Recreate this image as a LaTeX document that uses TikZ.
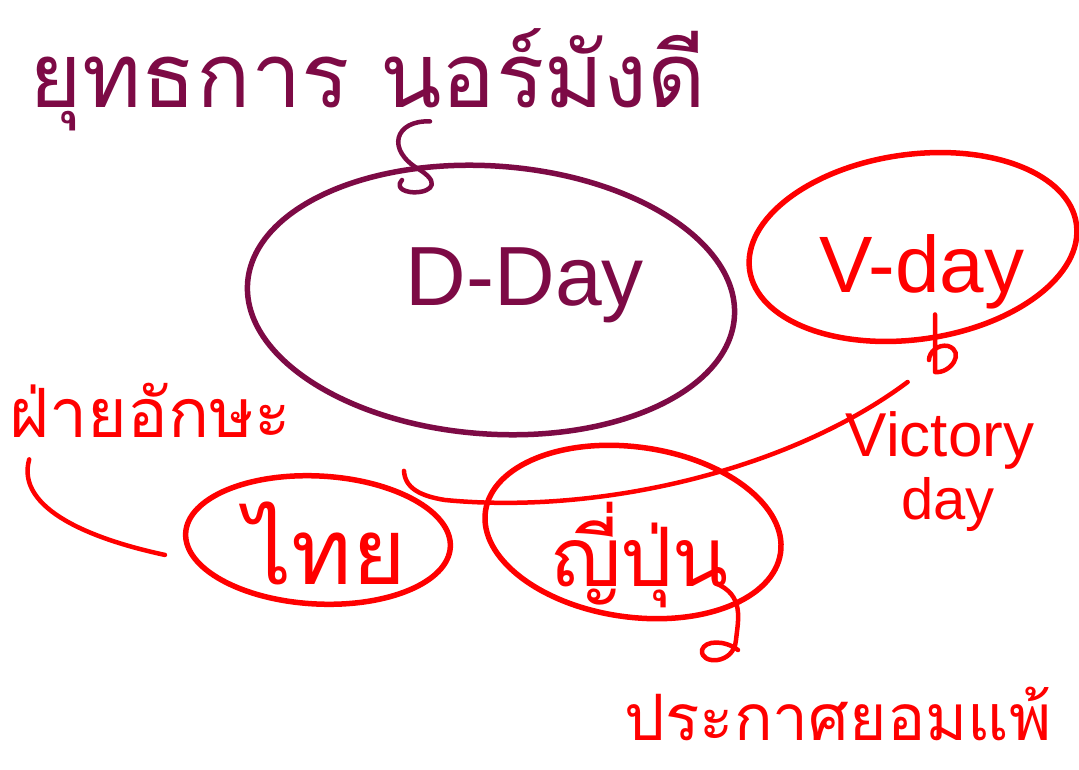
\documentclass[tikz,border=0pt]{standalone}
\usepackage{fontspec}
\setmainfont{Liberation Sans}
\newfontfamily\thaifont[Script=Thai]{Loma}
\usetikzlibrary{shapes.geometric,calc}
\definecolor{plum}{HTML}{7D0A45}
\definecolor{hred}{HTML}{FF0000}
\begin{document}
\begin{tikzpicture}[x=1pt,y=-1pt,
  oval/.style={ellipse, draw, line width=5.5pt, inner sep=0pt},
  conn/.style={line width=4.5pt, line cap=round, line join=round},
  th/.style={font=\thaifont\fontsize{#1}{#1}\selectfont, inner sep=0pt},
  en/.style={font=\fontsize{#1}{#1}\selectfont, inner sep=0pt}]
\useasboundingbox[fill=white] (0,0) rectangle (1079,770);

% top label and D-Day
\node[th=90, text=plum] (top) at (368,80) {ยุทธการ นอร์มังดี};
\node[oval, draw=plum, minimum width=488pt, minimum height=268pt, rotate=-4] (dday) at (491,300) {};
\node[en=84, text=plum] (ddaytxt) at (525,285) {D-Day};
\coordinate (curlA) at (402,180);
\draw[conn, plum] ($(top.south)+(62,-10)$) .. controls (395,120) and (385,150) .. (420,170)
  .. controls (445,186) and (425,194) .. (410,192) .. controls (398,190) and (398,184) .. (curlA);

% V-day
\node[oval, draw=hred, minimum width=330pt, minimum height=185pt, rotate=8] (vday) at (913,247) {};
\node[en=80, text=hred] (vdaytxt) at (922,272) {V-day};
\node[en=62, text=hred] (victory) at (940,440) {Victory};
\node[en=58, text=hred] (vday2) at (948,505) {day};
\coordinate (curlB) at (929,360);
\draw[conn, hred] ($(vdaytxt.south)+(13,5)$) -- (935,372)
  .. controls (950,374) and (966,352) .. (948,346) .. controls (938,344) and (929,352) .. (curlB);

% left node
\node[oval, draw=hred, minimum width=265pt, minimum height=128pt, rotate=-3] (thai) at (318,540) {};
\node[th=92, text=hred] (thaitxt) at (326,543) {ไทย};

% middle node
\node[oval, draw=hred, minimum width=298pt, minimum height=170pt, rotate=-8] (japan) at (633,532) {};
\node[th=82, text=hred] (japantxt) at (640,555) {ญี่ปุ่น};

% left label
\node[th=68, text=hred] (axis) at (150,410) {ฝ่ายอักษะ};
\draw[conn, hred] ($(axis.south west)+(20,22)$) .. controls (15,510) and (95,540) .. ($(thai.west)+(-18,22)$);

% bottom label
\node[th=64, text=hred] (surrender) at (838,714) {ประกาศยอมแพ้};
\coordinate (curlC) at (738,650);
\draw[conn, hred] ($(japantxt.center)+(75,28)$) .. controls (745,595) and (738,620) .. (736,640)
  .. controls (734,665) and (700,665) .. (702,650) .. controls (705,640) and (725,640) .. (curlC);

% long connector
\draw[conn, hred] ($(thai.north east)+(-12,-27)$) .. controls (405,488) and (420,496) .. (445,500)
  .. controls (600,515) and (790,470) .. ($(victory.west)+(62,-58)$);
\end{tikzpicture}
\end{document}
